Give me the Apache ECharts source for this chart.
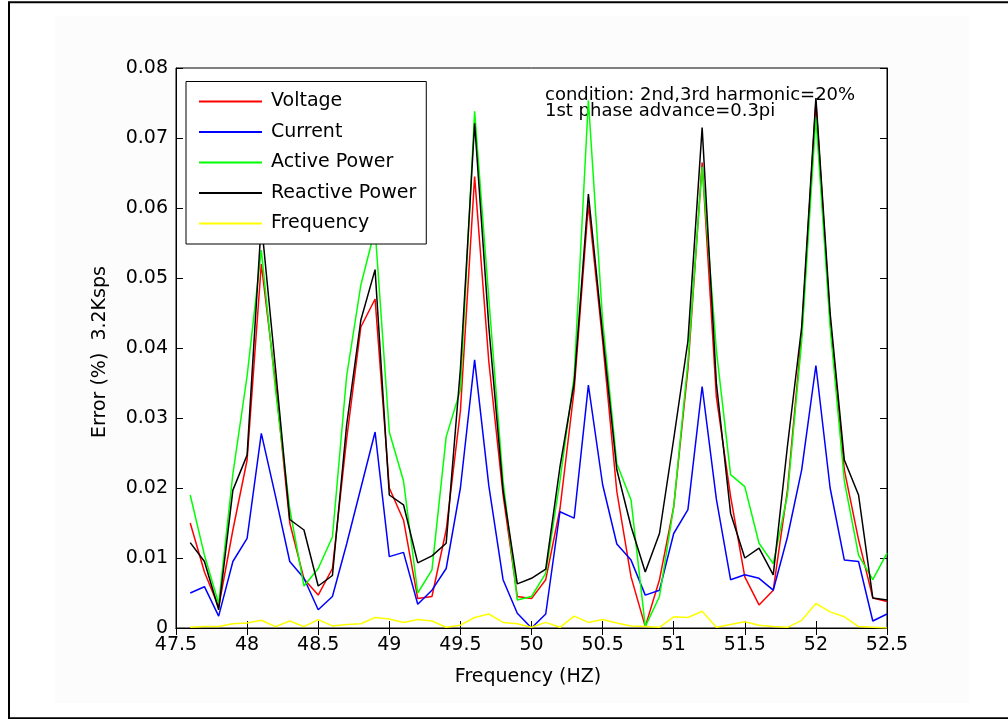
<!DOCTYPE html>
<html>
<head>
<meta charset="utf-8">
<script src="https://cdn.jsdelivr.net/npm/echarts@6/dist/echarts.min.js"></script>
<style>
  html, body { margin: 0; padding: 0; background: #ffffff; }
  #chart { width: 1008px; height: 719px; }
</style>
</head>
<body>
<div id="chart"></div>
<script>
// Measurement error of the analyser (3.2 ksps) against signal frequency
const frequencyHz = [
  47.6, 47.7, 47.8, 47.9, 48.0, 48.1, 48.2, 48.3, 48.4, 48.5,
  48.6, 48.7, 48.8, 48.9, 49.0, 49.1, 49.2, 49.3, 49.4, 49.5,
  49.6, 49.7, 49.8, 49.9, 50.0, 50.1, 50.2, 50.3, 50.4, 50.5,
  50.6, 50.7, 50.8, 50.9, 51.0, 51.1, 51.2, 51.3, 51.4, 51.5,
  51.6, 51.7, 51.8, 51.9, 52.0, 52.1, 52.2, 52.3, 52.4, 52.5
];

const voltageErr = [
  0.015, 0.008, 0.003, 0.014, 0.024, 0.052, 0.035, 0.015, 0.007, 0.0047,
  0.0085, 0.027, 0.043, 0.047, 0.020, 0.0154, 0.0042, 0.0045, 0.014, 0.031,
  0.0645, 0.038, 0.019, 0.0045, 0.0042, 0.0069, 0.017, 0.034, 0.0605, 0.041,
  0.0195, 0.0073, 0.0002, 0.0069, 0.0173, 0.037, 0.0665, 0.033, 0.0188, 0.0073,
  0.0033, 0.0054, 0.0197, 0.042, 0.0752, 0.044, 0.0226, 0.0126, 0.0043, 0.0038
];

const currentErr = [
  0.005, 0.0059, 0.0017, 0.0095, 0.0128, 0.0278, 0.0188, 0.0095, 0.0071, 0.0026,
  0.0045, 0.012, 0.020, 0.028, 0.0102, 0.0108, 0.0034, 0.0054, 0.0085, 0.020,
  0.0383, 0.0203, 0.0069, 0.0021, 0.0, 0.002, 0.0166, 0.0157, 0.0347, 0.0205,
  0.012, 0.0097, 0.0047, 0.0054, 0.0135, 0.0169, 0.0345, 0.0184, 0.0069, 0.0076,
  0.0071, 0.0054, 0.013, 0.0226, 0.0375, 0.020, 0.0097, 0.0095, 0.001, 0.002
];

const activePowerErr = [
  0.019, 0.0104, 0.0035, 0.022, 0.036, 0.054, 0.034, 0.017, 0.006, 0.0085,
  0.013, 0.036, 0.049, 0.057, 0.028, 0.021, 0.005, 0.0083, 0.0273, 0.034,
  0.0738, 0.047, 0.021, 0.004, 0.0045, 0.0078, 0.021, 0.036, 0.0754, 0.044,
  0.0235, 0.0183, 0.0002, 0.0045, 0.0173, 0.038, 0.0659, 0.0397, 0.0219, 0.0202,
  0.0121, 0.0092, 0.019, 0.041, 0.073, 0.043, 0.021, 0.0104, 0.0069, 0.0107
];

const reactivePowerErr = [
  0.0122, 0.0095, 0.0026, 0.0197, 0.0247, 0.058, 0.037, 0.0155, 0.014, 0.006,
  0.0075, 0.029, 0.044, 0.0512, 0.019, 0.0176, 0.0093, 0.0103, 0.0121, 0.037,
  0.0721, 0.043, 0.0197, 0.0063, 0.0071, 0.0084, 0.023, 0.035, 0.062, 0.042,
  0.0226, 0.0145, 0.008, 0.0135, 0.027, 0.041, 0.0715, 0.035, 0.0164, 0.010,
  0.0114, 0.0076, 0.026, 0.043, 0.0757, 0.045, 0.024, 0.019, 0.0043, 0.004
];

const frequencyErr = [
  0.0001, 0.0002, 0.0002, 0.0006, 0.0007, 0.0011, 0.0002, 0.001, 0.0002, 0.0012,
  0.0003, 0.0005, 0.0006, 0.0015, 0.0013, 0.0008, 0.0012, 0.001, 0.0001, 0.0004,
  0.0015, 0.002, 0.0008, 0.0006, 0.0001, 0.0008, 0.0001, 0.0017, 0.0008, 0.0012,
  0.0007, 0.0003, 0.0002, 0.0001, 0.0016, 0.0015, 0.0024, 0.0001, 0.0005, 0.0009,
  0.0004, 0.0002, 0.0001, 0.0011, 0.0035, 0.0023, 0.0016, 0.0002, 0.0001, 0.0
];

const xTickLabels = ['47.5', '48', '48.5', '49', '49.5', '50', '50.5', '51', '51.5', '52', '52.5'];
const yTickLabels = ['0', '0.01', '0.02', '0.03', '0.04', '0.05', '0.06', '0.07', '0.08'];

const seriesNames = ['Voltage', 'Current', 'Active Power', 'Reactive Power', 'Frequency'];
const seriesColors = ['#ff0000', '#0000ff', '#00ff00', '#000000', '#ffff00'];
const seriesValues = [voltageErr, currentErr, activePowerErr, reactivePowerErr, frequencyErr];

const FONT = 'DejaVu Sans';
const xMin = 47.5, xMax = 52.5, xStep = 0.5;
const yMin = 0, yMax = 0.08, yStep = 0.01;

function xLabel(v) {
  const i = Math.round((v - xMin) / xStep);
  return xTickLabels[i] !== undefined ? xTickLabels[i] : '';
}
function yLabel(v) {
  const i = Math.round((v - yMin) / yStep);
  return yTickLabels[i] !== undefined ? yTickLabels[i] : '';
}

const axisLineStyle = { lineStyle: { color: '#000', width: 1 } };
const innerTick = { show: true, inside: true, length: 7, lineStyle: { color: '#000', width: 1 } };

const chart = echarts.init(document.getElementById('chart'), null, { renderer: 'canvas' });

chart.setOption({
  backgroundColor: '#ffffff',
  animation: false,
  grid: {
    left: 176, top: 68, width: 711, height: 560,
    show: true, borderColor: '#000', borderWidth: 1, backgroundColor: '#ffffff'
  },
  xAxis: [
    {
      type: 'value', position: 'bottom', min: xMin, max: xMax, interval: xStep,
      axisLine: axisLineStyle, axisTick: innerTick, splitLine: { show: false },
      axisLabel: { color: '#000', fontFamily: FONT, fontSize: 19, margin: 8, formatter: xLabel }
    },
    {
      type: 'value', position: 'top', min: xMin, max: xMax, interval: xStep,
      axisLine: axisLineStyle, axisTick: innerTick, splitLine: { show: false },
      axisLabel: { show: false }
    }
  ],
  yAxis: [
    {
      type: 'value', position: 'left', min: yMin, max: yMax, interval: yStep,
      axisLine: axisLineStyle, axisTick: innerTick, splitLine: { show: false },
      axisLabel: { color: '#000', fontFamily: FONT, fontSize: 19, margin: 8, formatter: yLabel }
    },
    {
      type: 'value', position: 'right', min: yMin, max: yMax, interval: yStep,
      axisLine: axisLineStyle, axisTick: innerTick, splitLine: { show: false },
      axisLabel: { show: false }
    }
  ],
  legend: {
    orient: 'vertical',
    left: 186, top: 81.5,
    z: 20,
    padding: [10.5, 10, 11, 13],
    icon: 'path://M0,0H63V2H0Z',
    itemWidth: 63, itemHeight: 2, itemGap: 11.5,
    backgroundColor: '#ffffff', borderColor: '#000', borderWidth: 1, borderRadius: 0,
    data: seriesNames,
    textStyle: { color: '#000', fontFamily: FONT, fontSize: 19, lineHeight: 19, padding: [0, 0, 0, 4] }
  },
  series: seriesNames.map((name, k) => ({
    name: name,
    type: 'line',
    xAxisIndex: 0, yAxisIndex: 0,
    symbol: 'none',
    lineStyle: { color: seriesColors[k], width: 1.5 },
    itemStyle: { color: seriesColors[k] },
    data: frequencyHz.map((f, i) => [f, seriesValues[k][i]]),
    z: 2
  })),
  graphic: [
    // faint figure background
    {
      type: 'rect', silent: true, z: -10,
      shape: { x: 55, y: 16, width: 914, height: 687 },
      style: { fill: '#fcfcfc' }
    },
    // outer frame: left, top and bottom edges
    {
      type: 'polyline', silent: true, z: 0,
      shape: { points: [[1010, 2.25], [9, 2.25], [9, 718.25], [1010, 718.25]] },
      style: { fill: null, stroke: '#000', lineWidth: 2 }
    },
    {
      type: 'text', silent: true, z: 1, left: 545, top: 86,
      style: {
        text: 'condition: 2nd,3rd harmonic=20%\n1st phase advance=0.3pi',
        font: '18px "DejaVu Sans"', fill: '#000', lineHeight: 16
      }
    },
    {
      type: 'text', silent: true, x: 100, y: 352, rotation: Math.PI / 2,
      style: {
        text: 'Error (%)  3.2Ksps', font: '19px "DejaVu Sans"', fill: '#000',
        textAlign: 'center', textVerticalAlign: 'middle'
      }
    },
    {
      type: 'text', silent: true, x: 528, y: 677,
      style: {
        text: 'Frequency (HZ)', font: '19px "DejaVu Sans"', fill: '#000',
        textAlign: 'center', textVerticalAlign: 'middle'
      }
    }
  ]
});
</script>
</body>
</html>
